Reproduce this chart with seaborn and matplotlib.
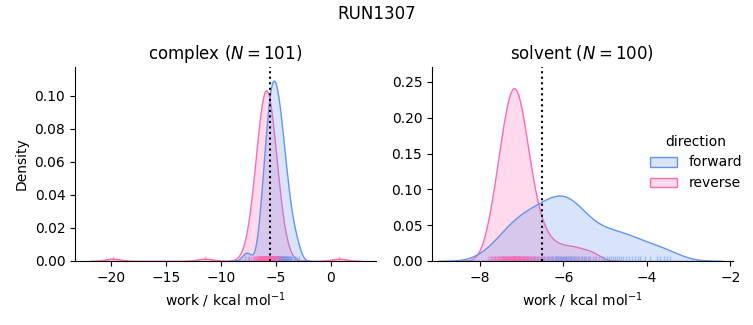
import matplotlib
matplotlib.use("Agg")
import matplotlib.pyplot as plt
import pandas as pd
import seaborn as sns

# ---- data (work values, kcal/mol) ----
complex_forward = [
    -7.85, -7.50, -6.58, -6.48, -6.40, -6.33, -6.27, -6.22, -6.16, -6.12,
    -6.08, -6.04, -6.00, -5.97, -5.93, -5.91, -5.87, -5.85, -5.82, -5.79,
    -5.77, -5.74, -5.71, -5.69, -5.66, -5.63, -5.62, -5.59, -5.57, -5.55,
    -5.53, -5.50, -5.49, -5.46, -5.44, -5.41, -5.40, -5.37, -5.35, -5.34,
    -5.31,
    -5.29, -5.27, -5.25, -5.23, -5.20, -5.19, -5.16, -5.14, -5.12, -5.10,
    -5.08, -5.05, -5.04, -5.01, -4.99, -4.97, -4.95, -4.92, -4.90, -4.88,
    -4.86, -4.83, -4.81, -4.79, -4.76, -4.74, -4.71, -4.68, -4.67, -4.64,
    -4.61, -4.59, -4.55, -4.53, -4.50, -4.47, -4.44, -4.41, -4.38, -4.35,
    -4.31, -4.28, -4.24, -4.21, -4.16, -4.12, -4.09, -4.04, -3.99, -3.94,
    -3.88, -3.83, -3.76, -3.69, -3.61, -3.51, -3.40, -3.26, -3.12, -2.92,
]
complex_reverse = [
    -19.85, -11.45,
    -7.52, -7.26, -7.13, -7.04, -6.97, -6.91, -6.85, -6.81, -6.76, -6.72,
    -6.68, -6.65, -6.62, -6.59, -6.56, -6.53, -6.51, -6.48, -6.45, -6.43,
    -6.42, -6.39, -6.37, -6.35, -6.33, -6.31, -6.28, -6.27, -6.25, -6.23,
    -6.21, -6.19, -6.18, -6.16, -6.14, -6.12, -6.11, -6.09, -6.07, -6.05,
    -6.04, -6.02, -6.01, -5.99, -5.97, -5.95, -5.94, -5.93, -5.91,
    -5.89, -5.87, -5.86, -5.85, -5.83, -5.81, -5.79, -5.78, -5.76, -5.75,
    -5.73, -5.71, -5.70, -5.68, -5.66, -5.64, -5.62, -5.61, -5.59, -5.57,
    -5.55, -5.54, -5.52, -5.49, -5.47, -5.46, -5.43, -5.41, -5.38, -5.37,
    -5.35, -5.32, -5.30, -5.27, -5.24, -5.22, -5.18, -5.15, -5.12, -5.08,
    -5.04, -5.00, -4.95, -4.89, -4.83, -4.76, -4.67, -4.54, -4.28,
    0.75,
]
solvent_forward = [
    -7.74, -7.64, -7.55, -7.48, -7.42,
    -7.37, -7.33, -7.29, -7.25, -7.21, -7.17, -7.13, -7.09, -7.06, -7.03,
    -7.00,
    -6.97, -6.94, -6.90, -6.87, -6.84, -6.80, -6.77, -6.74, -6.71, -6.68,
    -6.64, -6.61,
    -6.57, -6.54, -6.50, -6.47, -6.44, -6.40, -6.37, -6.34, -6.30, -6.27,
    -6.24, -6.21,
    -6.19, -6.17, -6.15, -6.13, -6.11, -6.09, -6.07, -6.05, -6.03, -6.01,
    -5.99, -5.97, -5.95, -5.93, -5.91, -5.89, -5.87, -5.85, -5.83, -5.81,
    -5.78, -5.75, -5.72, -5.69, -5.66, -5.62, -5.58, -5.55, -5.52, -5.49,
    -5.46, -5.42,
    -5.36, -5.29, -5.22, -5.15, -5.08, -5.02,
    -4.96, -4.91, -4.86, -4.81, -4.76, -4.71, -4.66, -4.62,
    -4.57, -4.50, -4.43, -4.36, -4.29, -4.22,
    -4.16, -4.05, -3.92,
    -3.76, -3.68, -3.60, -3.52, -3.45,
]
solvent_reverse = [
    -7.81, -7.76, -7.72, -7.69, -7.67, -7.64, -7.62, -7.60, -7.58, -7.56,
    -7.54, -7.52, -7.50, -7.49, -7.48, -7.46, -7.45, -7.44, -7.43, -7.42,
    -7.41, -7.40, -7.38, -7.37, -7.36, -7.35, -7.34, -7.33, -7.32, -7.31,
    -7.30, -7.29, -7.28, -7.27, -7.25, -7.24, -7.23, -7.23, -7.22, -7.21,
    -7.21, -7.20, -7.19,
    -7.19,
    -7.18, -7.17, -7.17, -7.16, -7.15, -7.15, -7.14, -7.13, -7.11, -7.11,
    -7.10, -7.09, -7.08, -7.07, -7.06, -7.05, -7.04, -7.03, -7.02, -7.01,
    -7.00, -6.98, -6.97, -6.96, -6.95, -6.94, -6.93, -6.92, -6.90, -6.89,
    -6.88, -6.86, -6.84, -6.82, -6.80, -6.78, -6.76, -6.74, -6.71, -6.69,
    -6.66, -6.62, -6.57, -6.52, -6.46,
    -6.40, -6.32, -6.25, -6.12, -6.02, -5.90, -5.80, -5.68, -5.55, -5.38,
    -5.24,
]
estimates = {"complex": -5.55, "solvent": -6.51}
sample_sizes = {"complex": 101, "solvent": 100}
phases = ["complex", "solvent"]
directions = ["forward", "reverse"]
palette = {"forward": "cornflowerblue", "reverse": "hotpink"}
title = "RUN1307"
xlabel = "work / kcal mol$^{-1}$"

# ---- build long-form table ----
series = {
    ("complex", "forward"): complex_forward,
    ("complex", "reverse"): complex_reverse,
    ("solvent", "forward"): solvent_forward,
    ("solvent", "reverse"): solvent_reverse,
}
rows = []
for (phase, direction), vals in series.items():
    for v in vals:
        rows.append({"phase": phase, "direction": direction, "work": v})
df = pd.DataFrame(rows)

g = sns.displot(
    data=df, x="work", col="phase", hue="direction", kind="kde",
    fill=True, rug=True, common_norm=True, palette=palette,
    hue_order=directions, col_order=phases,
    facet_kws=dict(sharex=False, sharey=False),
    rug_kws=dict(alpha=0.5), height=3, aspect=1.2,
)

for ax, phase in zip(g.axes.flat, phases):
    ax.set_title(f"{phase} ($N={sample_sizes[phase]}$)", fontsize=12)
    ax.axvline(estimates[phase], color="black", ls=":", lw=1.5)
g.set_axis_labels(xlabel, "Density")
ax_c, ax_s = g.axes.flat
ax_c.set_ylim(0, 0.1176)
ax_c.set_xlim(-23.3, 4.1)
ax_s.set_ylim(0, 0.271)
ax_s.set_xlim(-9.15, -1.94)

fig = g.figure
fig.set_size_inches(7.53, 3.25)
fig.subplots_adjust(left=0.0996, right=0.9734, bottom=0.197, top=0.794, wspace=0.186)
sns.move_legend(g, "center left", bbox_to_anchor=(0.846, 0.5), frameon=False)
fig.suptitle(title, fontsize=12, y=0.985)
fig.savefig("out.png", dpi=100)
